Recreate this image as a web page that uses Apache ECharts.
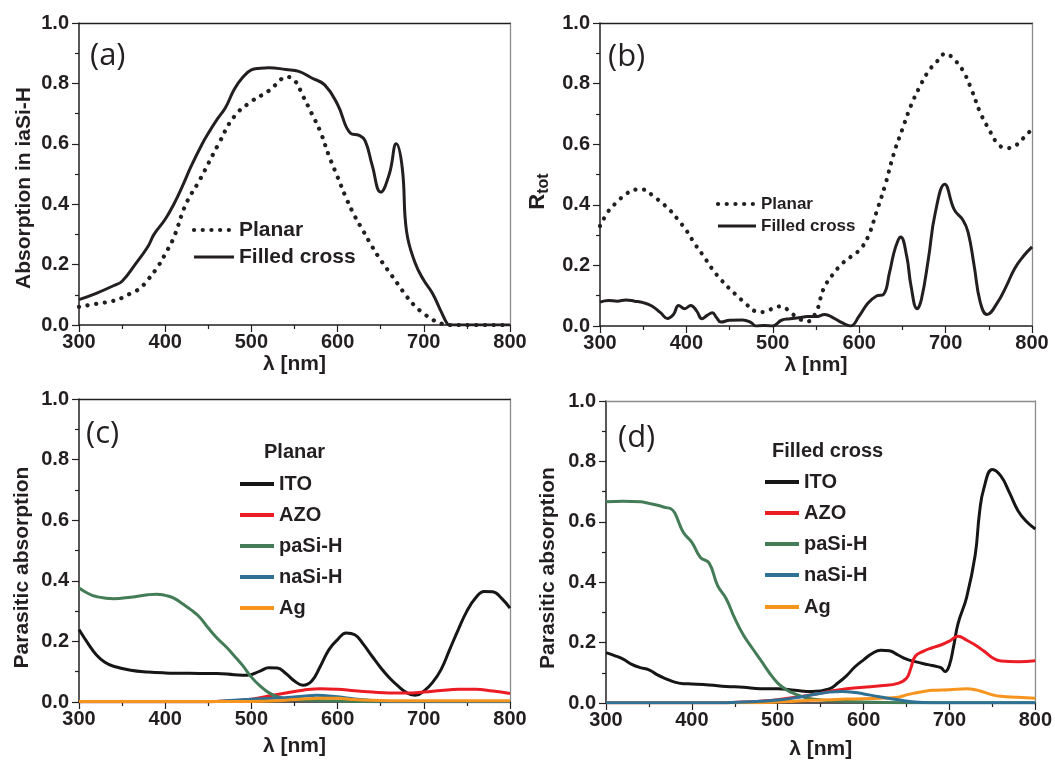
<!DOCTYPE html>
<html>
<head>
<meta charset="utf-8">
<script src="https://cdn.jsdelivr.net/npm/echarts@6/dist/echarts.min.js"></script>
<style>
  html, body { margin: 0; padding: 0; background: #fff; }
  #chart { width: 1055px; height: 761px; }
</style>
</head>
<body>
<div id="chart"></div>
<script>
// ---- (a) absorption in the intrinsic a-Si:H layer ----
const aPlanarWl  = [300,320,340,350,360,370,380,393,400,410,424,440,462,480,500,520,530,540,550,560,570,580,590,600,610,620,630,640,650,660,670,680,690,700,710,720,730,800];
const aPlanarAbs = [0.06,0.07,0.08,0.09,0.105,0.12,0.15,0.2,0.235,0.29,0.4,0.48,0.6,0.69,0.74,0.775,0.8,0.822,0.81,0.757,0.7,0.64,0.56,0.49,0.42,0.36,0.31,0.26,0.215,0.175,0.135,0.095,0.062,0.038,0.018,0.005,0,0];
const aFilledWl  = [300,320,340,350,365,380,387,400,410,420,430,443,450,460,470,480,490,500,510,520,540,555,570,585,600,615,625,632,640,650,660,668,675,680,690,700,710,720,727,730,800];
const aFilledAbs = [0.084,0.105,0.13,0.145,0.2,0.26,0.3,0.35,0.4,0.46,0.525,0.6,0.635,0.68,0.72,0.78,0.82,0.845,0.85,0.852,0.846,0.84,0.818,0.795,0.73,0.635,0.628,0.61,0.53,0.44,0.5,0.6,0.52,0.31,0.205,0.148,0.105,0.045,0.005,0,0];

// ---- (b) total reflectance ----
const bPlanarWl  = [300,310,320,330,340,350,360,370,380,390,400,410,420,430,440,450,460,470,480,490,500,510,520,530,540,550,555,560,570,580,590,600,610,620,630,640,650,660,670,680,690,700,710,720,730,740,750,760,770,780,790,800];
const bPlanarR   = [0.33,0.38,0.41,0.435,0.45,0.45,0.433,0.41,0.385,0.352,0.315,0.27,0.23,0.188,0.153,0.123,0.096,0.07,0.049,0.046,0.058,0.065,0.046,0.025,0.015,0.045,0.09,0.13,0.172,0.205,0.228,0.25,0.293,0.376,0.465,0.568,0.65,0.728,0.789,0.84,0.873,0.899,0.879,0.843,0.78,0.705,0.65,0.603,0.587,0.594,0.62,0.65];
const bFilledWl  = [300,310,320,330,340,350,360,370,378,385,391,398,405,412,418,424,430,435,440,450,465,475,480,490,500,510,520,530,540,550,560,570,580,590,600,610,620,628,635,640,645,648,655,660,667,672,680,688,699,710,720,726,733,740,748,760,770,780,790,800];
const bFilledR   = [0.079,0.084,0.082,0.086,0.082,0.077,0.066,0.044,0.025,0.038,0.068,0.057,0.068,0.049,0.024,0.035,0.044,0.027,0.013,0.019,0.02,0.011,0,0.002,0,0.019,0.024,0.027,0.031,0.031,0.038,0.027,0.011,0,0.033,0.075,0.099,0.104,0.175,0.24,0.283,0.294,0.23,0.132,0.057,0.088,0.22,0.373,0.468,0.384,0.35,0.31,0.2,0.08,0.038,0.077,0.13,0.19,0.23,0.261];

// ---- (c) parasitic absorption, planar cell ----
const cItoWl  = [300,310,320,330,340,360,380,400,420,440,460,480,495,510,520,530,540,550,560,570,580,590,600,610,620,630,640,650,660,670,680,690,700,710,720,730,740,750,760,770,780,790,800];
const cItoAbs = [0.239,0.195,0.156,0.131,0.118,0.105,0.099,0.096,0.095,0.094,0.094,0.09,0.088,0.102,0.113,0.112,0.094,0.069,0.055,0.069,0.118,0.173,0.206,0.228,0.222,0.19,0.151,0.113,0.08,0.053,0.031,0.022,0.036,0.064,0.107,0.173,0.239,0.3,0.343,0.365,0.364,0.343,0.31];
const cAzoWl  = [300,450,480,500,520,540,560,580,600,620,640,660,680,700,720,740,760,780,800];
const cAzoAbs = [0.001,0.001,0.005,0.009,0.02,0.03,0.039,0.044,0.042,0.037,0.033,0.03,0.03,0.033,0.038,0.042,0.042,0.036,0.028];
const cPaWl   = [300,310,320,340,360,380,390,400,410,420,430,440,450,460,470,480,490,500,510,520,530,540,560,600,650,800];
const cPaAbs  = [0.376,0.359,0.348,0.341,0.346,0.354,0.356,0.352,0.343,0.324,0.304,0.28,0.244,0.211,0.184,0.153,0.12,0.082,0.053,0.031,0.018,0.011,0.007,0.003,0.001,0.001];
const cNaWl   = [300,450,480,500,540,560,575,600,620,640,660,800];
const cNaAbs  = [0.001,0.001,0.006,0.009,0.015,0.019,0.022,0.017,0.01,0.005,0.002,0.002];
const cAgWl   = [300,500,540,560,580,600,620,650,700,800];
const cAgAbs  = [0.002,0.002,0.006,0.01,0.012,0.012,0.008,0.005,0.004,0.004];

// ---- (d) parasitic absorption, filled-cross cell ----
const dItoWl  = [300,310,320,330,340,350,360,370,380,390,400,420,440,460,480,500,520,540,560,570,580,590,600,610,620,630,640,650,660,670,680,690,695,700,705,710,720,730,735,740,750,760,770,780,790,800];
const dItoAbs = [0.167,0.157,0.145,0.128,0.117,0.11,0.093,0.08,0.069,0.064,0.063,0.06,0.055,0.052,0.047,0.047,0.042,0.038,0.047,0.066,0.09,0.12,0.143,0.164,0.175,0.173,0.159,0.145,0.137,0.13,0.124,0.117,0.104,0.126,0.19,0.263,0.35,0.49,0.63,0.71,0.773,0.751,0.696,0.636,0.6,0.576];
const dAzoWl  = [300,440,460,480,500,520,540,560,580,600,620,640,650,655,660,670,680,690,700,710,720,730,740,750,760,780,800];
const dAzoAbs = [0.001,0.001,0.003,0.006,0.011,0.019,0.027,0.038,0.047,0.052,0.057,0.065,0.082,0.115,0.154,0.172,0.183,0.192,0.205,0.221,0.208,0.192,0.172,0.15,0.139,0.137,0.14];
const dPaWl   = [300,320,340,350,360,370,375,380,390,400,410,420,430,440,450,460,470,480,490,500,510,520,530,540,560,600,650,800];
const dPaAbs  = [0.666,0.668,0.666,0.661,0.655,0.647,0.644,0.63,0.565,0.532,0.482,0.464,0.389,0.345,0.28,0.225,0.183,0.143,0.101,0.066,0.044,0.03,0.02,0.013,0.008,0.003,0.001,0.001];
const dNaWl   = [300,440,460,480,500,520,540,560,575,590,600,620,640,660,680,800];
const dNaAbs  = [0.001,0.001,0.003,0.006,0.01,0.017,0.027,0.036,0.038,0.035,0.03,0.02,0.011,0.003,0.001,0.001];
const dAgWl   = [300,480,500,520,540,560,580,600,620,640,650,660,670,680,700,720,730,740,750,760,780,800];
const dAgAbs  = [0.001,0.001,0.003,0.006,0.009,0.011,0.013,0.014,0.016,0.019,0.027,0.033,0.038,0.042,0.044,0.047,0.044,0.036,0.027,0.022,0.019,0.016];

// ---- labels ----
const structureNames = ['Planar', 'Filled cross'];
const layerNames = ['ITO', 'AZO', 'paSi-H', 'naSi-H', 'Ag'];
const panelTags = ['(a)', '(b)', '(c)', '(d)'];
const yTickLabels = ['0.0', '0.2', '0.4', '0.6', '0.8', '1.0'];

// ---- styling ----
const FONT = '"Liberation Sans", Arial, Helvetica, sans-serif';
const INK = '#231f20';
const layerColors = ['#161616', '#ec1c24', '#437c57', '#2f7194', '#f7941d'];
const dotted = { type: [0.1, 8.6], cap: 'round', width: 4.2, color: INK };
const solid = { type: 'solid', width: 3, color: INK };

const grids = [
  { left: 79,  top: 23,  width: 431, height: 302 },
  { left: 600, top: 23,  width: 432, height: 303 },
  { left: 79,  top: 399, width: 431, height: 303 },
  { left: 606, top: 401, width: 431, height: 304 }
];

const boldText = (size) => ({ color: INK, fontSize: size, fontWeight: 'bold', fontFamily: FONT });

function bottomAxis(i, gap) {
  return {
    gridIndex: i, type: 'value', min: 300, max: 800, interval: 100, position: 'bottom',
    axisLine: { onZero: false, lineStyle: { color: INK, width: 1.5 } },
    axisTick: { show: true, inside: false, length: 7, lineStyle: { color: INK, width: 1.2 } },
    minorTick: { show: true, splitNumber: 2, length: 4, lineStyle: { color: INK, width: 1.2 } },
    splitLine: { show: false }, minorSplitLine: { show: false },
    axisLabel: Object.assign(boldText(20), { margin: 7 }),
    name: 'λ [nm]', nameLocation: 'middle', nameGap: gap,
    nameTextStyle: boldText(21)
  };
}
function leftAxis(i, name, gap, extra) {
  return {
    gridIndex: i, type: 'value', min: 0, max: 1, interval: 0.2, position: 'left',
    axisLine: { onZero: false, lineStyle: { color: INK, width: 1.5 } },
    axisTick: { show: true, inside: false, length: 7, lineStyle: { color: INK, width: 1.2 } },
    minorTick: { show: true, splitNumber: 2, length: 4, lineStyle: { color: INK, width: 1.2 } },
    splitLine: { show: false }, minorSplitLine: { show: false },
    axisLabel: Object.assign(boldText(20), {
      margin: 10,
      formatter: (v) => yTickLabels[Math.round(v / 0.2)]
    }),
    name: name, nameLocation: 'middle', nameGap: gap,
    nameTextStyle: Object.assign(boldText(21), extra || {})
  };
}
function topFrame(i, color) {
  return {
    gridIndex: i, type: 'value', min: 300, max: 800, position: 'top',
    axisLine: { show: true, onZero: false, lineStyle: { color: color, width: 1.3 } },
    axisTick: { show: false }, axisLabel: { show: false }, splitLine: { show: false }
  };
}
function rightFrame(i) {
  return {
    gridIndex: i, type: 'value', min: 0, max: 1, position: 'right',
    axisLine: { show: true, onZero: false, lineStyle: { color: '#8c8c8c', width: 1.3 } },
    axisTick: { show: false }, axisLabel: { show: false }, splitLine: { show: false }
  };
}

const pairs = (wl, v) => wl.map((x, k) => [x, v[k]]);
function curve(g, name, wl, vals, lineStyle, z) {
  return {
    type: 'line', name: name, xAxisIndex: g, yAxisIndex: g,
    data: pairs(wl, vals), symbol: 'none', showSymbol: false,
    smooth: 0.45, lineStyle: lineStyle,
    silent: true, z: z || 2
  };
}
const layerLine = (k) => ({ color: layerColors[k], width: 3 });

const series = [
  curve(0, structureNames[0], aPlanarWl, aPlanarAbs, dotted),
  curve(0, structureNames[1], aFilledWl, aFilledAbs, solid),
  curve(1, structureNames[0], bPlanarWl, bPlanarR, dotted),
  curve(1, structureNames[1], bFilledWl, bFilledR, solid),
  curve(2, layerNames[0], cItoWl, cItoAbs, layerLine(0), 2),
  curve(2, layerNames[1], cAzoWl, cAzoAbs, layerLine(1), 3),
  curve(2, layerNames[2], cPaWl, cPaAbs, layerLine(2), 4),
  curve(2, layerNames[3], cNaWl, cNaAbs, layerLine(3), 5),
  curve(2, layerNames[4], cAgWl, cAgAbs, layerLine(4), 6),
  curve(3, layerNames[0], dItoWl, dItoAbs, layerLine(0), 2),
  curve(3, layerNames[1], dAzoWl, dAzoAbs, layerLine(1), 3),
  curve(3, layerNames[2], dPaWl, dPaAbs, layerLine(2), 4),
  curve(3, layerNames[3], dNaWl, dNaAbs, layerLine(3), 6),
  curve(3, layerNames[4], dAgWl, dAgAbs, layerLine(4), 5)
];

// ---- legend keys drawn as sample strokes with captions ----
const graphics = [];
function key(x, y, len, style, label, size) {
  graphics.push({
    type: 'line', shape: { x1: x, y1: y, x2: x + len, y2: y },
    style: { stroke: style.color, lineWidth: style.width,
             lineDash: Array.isArray(style.type) ? style.type : null,
             lineCap: style.cap || 'butt' },
    silent: true
  });
  graphics.push({
    type: 'text', x: x + len + 5, y: y,
    style: { text: label, fill: INK, font: 'bold ' + size + 'px ' + FONT, verticalAlign: 'middle', align: 'left' },
    silent: true
  });
}
function caption(x, y, text, font, align) {
  graphics.push({
    type: 'text', x: x, y: y,
    style: { text: text, fill: INK, font: font, verticalAlign: 'middle', align: align || 'left' },
    silent: true
  });
}

// (a)
key(194, 230, 40, dotted, structureNames[0], 21);
key(194, 257, 40, solid, structureNames[1], 21);
// (b)
key(718, 204, 38, dotted, structureNames[0], 17);
key(718, 226, 38, solid, structureNames[1], 17);
// (c)
caption(264, 452, structureNames[0], 'bold 20px ' + FONT);
[484, 515, 546, 577, 608].forEach((y, k) => key(240, y, 34, { color: layerColors[k], width: 4 }, layerNames[k], 20));
// (d)
caption(772, 451, structureNames[1], 'bold 20px ' + FONT);
[482, 513, 544, 575, 607].forEach((y, k) => key(765, y, 34, { color: layerColors[k], width: 4 }, layerNames[k], 20));
// panel tags
const tagPos = [[90, 56], [608, 57], [86, 434], [618, 438]];
panelTags.forEach((t, k) => caption(tagPos[k][0], tagPos[k][1], t, '31px "Open Sans", "DejaVu Sans", sans-serif'));

const option = {
  animation: false,
  backgroundColor: '#ffffff',
  grid: grids,
  xAxis: [
    bottomAxis(0, 29), bottomAxis(1, 29), bottomAxis(2, 34), bottomAxis(3, 36),
    topFrame(0, INK), topFrame(1, INK), topFrame(2, INK), topFrame(3, '#8c8c8c')
  ],
  yAxis: [
    leftAxis(0, 'Absorption in iaSi-H', 44, { padding: [0, 28, 0, 0] }),
    leftAxis(1, '{r|R}{s|tot}', 48, {
      padding: [0, 34, 0, 0],
      rich: {
        r: Object.assign(boldText(22), { lineHeight: 28, verticalAlign: 'middle' }),
        s: Object.assign(boldText(16), { lineHeight: 14, verticalAlign: 'bottom' })
      }
    }),
    leftAxis(2, 'Parasitic absorption', 46, { padding: [0, 34, 0, 0] }),
    leftAxis(3, 'Parasitic absorption', 47, { padding: [0, 32, 0, 0] }),
    rightFrame(0), rightFrame(1), rightFrame(2), rightFrame(3)
  ],
  series: series,
  graphic: graphics
};

const chart = echarts.init(document.getElementById('chart'), null, { renderer: 'canvas' });
chart.setOption(option);
</script>
</body>
</html>
